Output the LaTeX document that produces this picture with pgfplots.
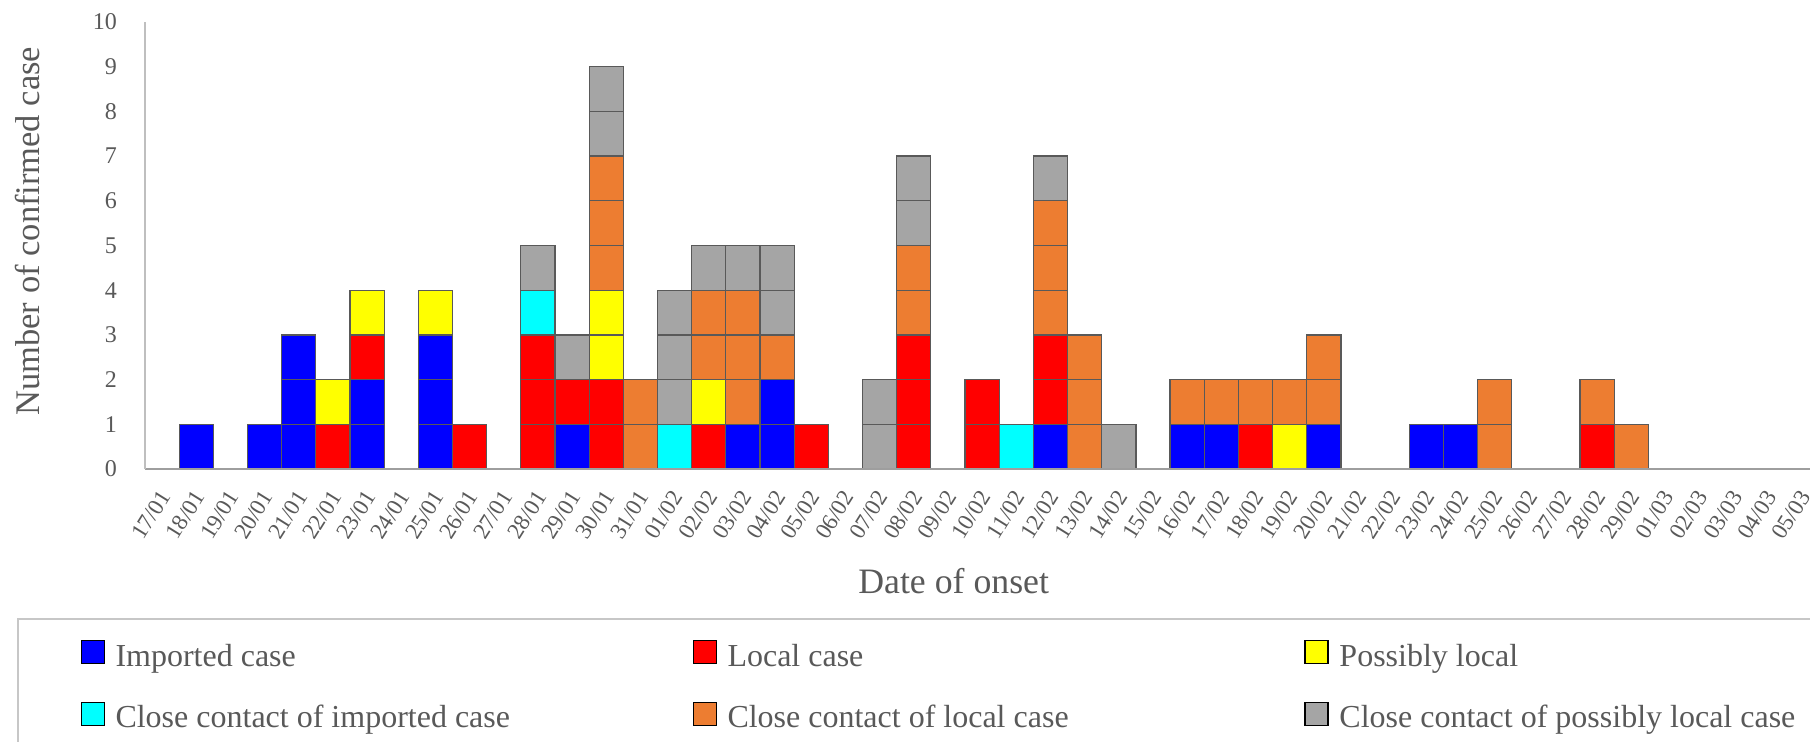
\documentclass[border=0pt]{standalone}
\usepackage{pgfplots}
\pgfplotsset{compat=1.18}
\usepackage{pgfplotstable}
\usepackage{fontspec}
\setmainfont{Liberation Serif}

\definecolor{cImp}{RGB}{0,0,255}
\definecolor{cLoc}{RGB}{255,0,0}
\definecolor{cPos}{RGB}{255,255,0}
\definecolor{cCI}{RGB}{0,255,255}
\definecolor{cCL}{RGB}{237,125,49}
\definecolor{cCP}{RGB}{165,165,165}
\definecolor{txt}{RGB}{89,89,89}

% cases per day of onset, 17/01 = 0 ... 05/03 = 48
% I imported, L local, P possibly local, CI/CL/CP close contacts
\pgfplotstableread{
idx I L P CI CL CP
0  0 0 0 0 0 0
1  1 0 0 0 0 0
2  0 0 0 0 0 0
3  1 0 0 0 0 0
4  3 0 0 0 0 0
5  0 1 1 0 0 0
6  2 1 1 0 0 0
7  0 0 0 0 0 0
8  3 0 1 0 0 0
9  0 1 0 0 0 0
10 0 0 0 0 0 0
11 0 3 0 1 0 1
12 1 1 0 0 0 1
13 0 2 2 0 3 2
14 0 0 0 0 2 0
15 0 0 0 1 0 3
16 0 1 1 0 2 1
17 1 0 0 0 3 1
18 2 0 0 0 1 2
19 0 1 0 0 0 0
20 0 0 0 0 0 0
21 0 0 0 0 0 2
22 0 3 0 0 2 2
23 0 0 0 0 0 0
24 0 2 0 0 0 0
25 0 0 0 1 0 0
26 1 2 0 0 3 1
27 0 0 0 0 3 0
28 0 0 0 0 0 1
29 0 0 0 0 0 0
30 1 0 0 0 1 0
31 1 0 0 0 1 0
32 0 1 0 0 1 0
33 0 0 1 0 1 0
34 1 0 0 0 2 0
35 0 0 0 0 0 0
36 0 0 0 0 0 0
37 1 0 0 0 0 0
38 1 0 0 0 0 0
39 0 0 0 0 2 0
40 0 0 0 0 0 0
41 0 0 0 0 0 0
42 0 1 0 0 1 0
43 0 0 0 0 1 0
44 0 0 0 0 0 0
45 0 0 0 0 0 0
46 0 0 0 0 0 0
47 0 0 0 0 0 0
48 0 0 0 0 0 0
}\onsetdata

\begin{document}
\begin{tikzpicture}
\begin{axis}[
    at={(0,0)}, anchor=south west, scale only axis,
    width=669.7pt, height=178.8pt,
    ybar stacked, bar width=1,
    xmin=-0.5, xmax=48.5, ymin=0, ymax=10,
    axis on top,
    axis x line*=bottom, axis y line*=left,
    x axis line style={draw=black!38, line width=0.8pt},
    y axis line style={draw=black!25, line width=0.5pt},
    major tick length=0pt,
    xtick={0,...,48},
    xticklabels={17/01,18/01,19/01,20/01,21/01,22/01,23/01,24/01,25/01,26/01,27/01,28/01,29/01,30/01,31/01,
                 01/02,02/02,03/02,04/02,05/02,06/02,07/02,08/02,09/02,10/02,11/02,12/02,13/02,14/02,15/02,
                 16/02,17/02,18/02,19/02,20/02,21/02,22/02,23/02,24/02,25/02,26/02,27/02,28/02,29/02,
                 01/03,02/03,03/03,04/03,05/03},
    ytick={0,...,10},
    /pgf/number format/assume math mode=true,
    tick label style={text=txt, font=\fontsize{9.6}{11}\selectfont},
    xticklabel style={xshift=-1.5pt, rotate=58, anchor=north east, inner sep=0pt,
        font=\fontsize{9.2}{11}\selectfont},
    xticklabel shift=7.5pt,
    yticklabel style={inner sep=0pt},
    yticklabel shift=11pt,
    xlabel={Date of onset},
    ylabel={Number of confirmed case},
    every axis x label/.style={at={(axis description cs:0.483,-0.2506)}, anchor=center,
        text=txt, font=\fontsize{14.3}{16}\selectfont},
    every axis y label/.style={at={(axis description cs:-0.0699,0.532)}, anchor=center, rotate=90,
        text=txt, font=\fontsize{13.8}{16}\selectfont},
    legend columns=3,
    legend cell align=left,
    legend image code/.code={\draw[#1, draw=black, line width=0.5pt] (0pt,-1.3pt) rectangle (9.2pt,7.9pt);},
    legend style={at={(axis description cs:-0.07645,-0.3333)}, anchor=north west,
        draw=black!22, line width=0.8pt, fill=none,
        inner xsep=25pt, inner ysep=8.5pt, row sep=9.77pt,
        font=\fontsize{12.8}{15}\selectfont, text=txt,
        nodes={inner sep=2pt, text height=0.7em, text depth=0.25em},
        /tikz/every odd column/.style={column sep=2.3pt},
        /tikz/every even column/.style={column sep=28.8pt}},
    cell/.style={fill=#1, draw=black!65, line width=0.5pt, forget plot},
]
% one layer of unit cells per case, so every case gets its own box
\addplot[cell=cImp] table[x=idx, y expr={\thisrow{I}>=1}] {\onsetdata};
\addplot[cell=cImp] table[x=idx, y expr={\thisrow{I}>=2}] {\onsetdata};
\addplot[cell=cImp] table[x=idx, y expr={\thisrow{I}>=3}] {\onsetdata};
\addplot[cell=cLoc] table[x=idx, y expr={\thisrow{L}>=1}] {\onsetdata};
\addplot[cell=cLoc] table[x=idx, y expr={\thisrow{L}>=2}] {\onsetdata};
\addplot[cell=cLoc] table[x=idx, y expr={\thisrow{L}>=3}] {\onsetdata};
\addplot[cell=cPos] table[x=idx, y expr={\thisrow{P}>=1}] {\onsetdata};
\addplot[cell=cPos] table[x=idx, y expr={\thisrow{P}>=2}] {\onsetdata};
\addplot[cell=cCI] table[x=idx, y expr={\thisrow{CI}>=1}] {\onsetdata};
\addplot[cell=cCL] table[x=idx, y expr={\thisrow{CL}>=1}] {\onsetdata};
\addplot[cell=cCL] table[x=idx, y expr={\thisrow{CL}>=2}] {\onsetdata};
\addplot[cell=cCL] table[x=idx, y expr={\thisrow{CL}>=3}] {\onsetdata};
\addplot[cell=cCP] table[x=idx, y expr={\thisrow{CP}>=1}] {\onsetdata};
\addplot[cell=cCP] table[x=idx, y expr={\thisrow{CP}>=2}] {\onsetdata};
\addplot[cell=cCP] table[x=idx, y expr={\thisrow{CP}>=3}] {\onsetdata};

\addlegendimage{fill=cImp}
\addlegendentry{\makebox[200pt][l]{Imported case}}
\addlegendimage{fill=cLoc}
\addlegendentry{\makebox[200pt][l]{Local case}}
\addlegendimage{fill=cPos}
\addlegendentry{\makebox[200pt][l]{Possibly local}}
\addlegendimage{fill=cCI}
\addlegendentry{\makebox[200pt][l]{Close contact of imported case}}
\addlegendimage{fill=cCL}
\addlegendentry{\makebox[200pt][l]{Close contact of local case}}
\addlegendimage{fill=cCP}
\addlegendentry{\makebox[200pt][l]{Close contact of possibly local case}}
\end{axis}
\pgfresetboundingbox
\path[use as bounding box] (-58pt,-109.2pt) rectangle (666pt,187.6pt);
\end{tikzpicture}
\end{document}
